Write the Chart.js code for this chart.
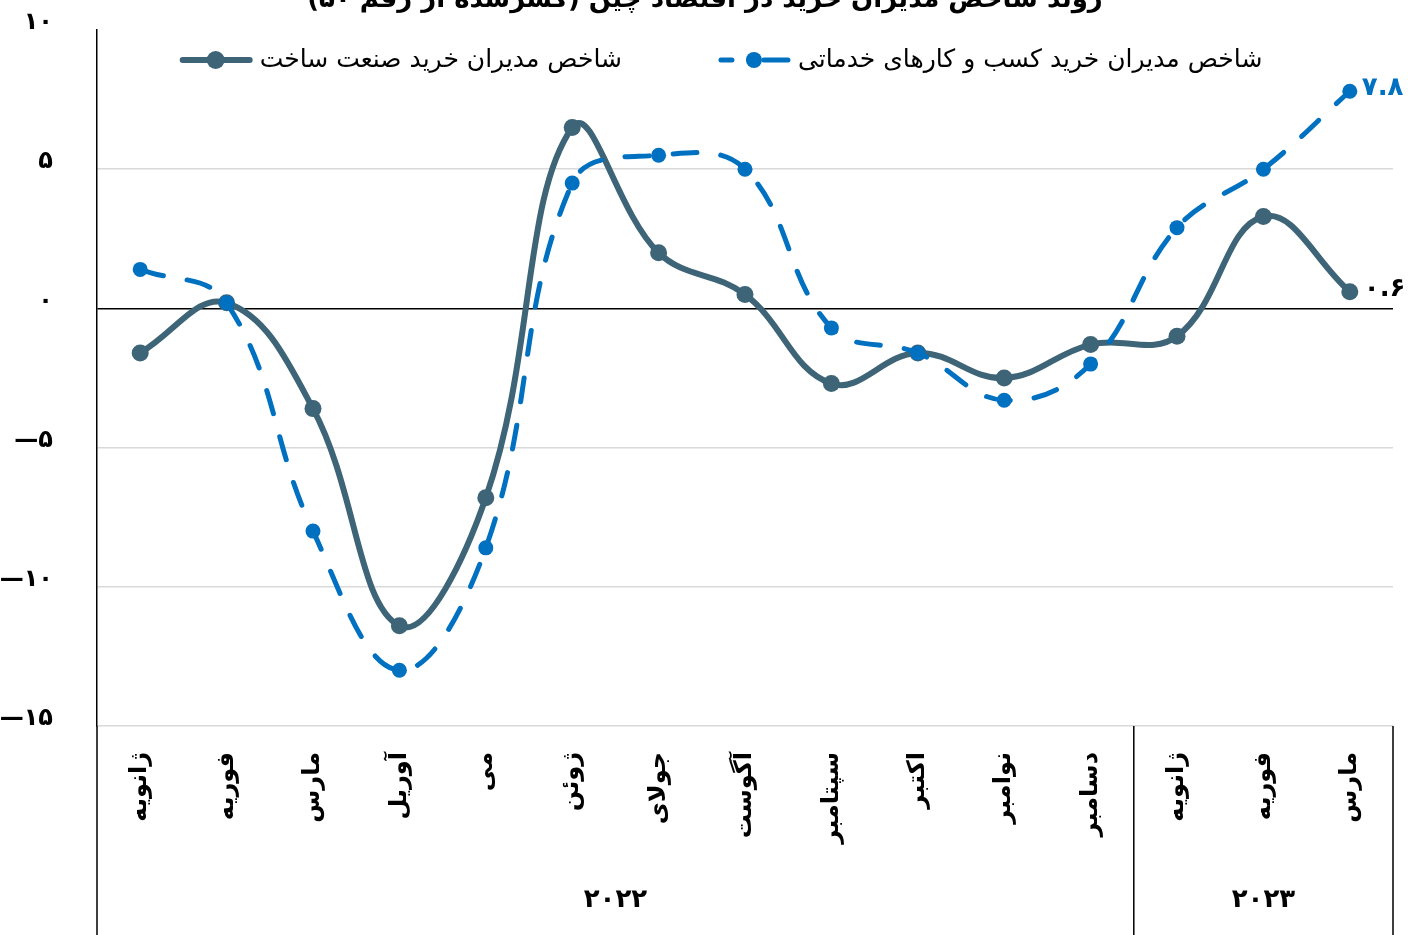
<!DOCTYPE html>
<html lang="fa">
<head>
<meta charset="utf-8">
<title>شاخص مدیران خرید چین</title>
<script src="https://cdn.jsdelivr.net/npm/chart.js@4.4.1/dist/chart.umd.min.js"></script>
<style>
  html, body { margin: 0; padding: 0; background: #fff; }
  #wrap { width: 1408px; height: 935px; position: relative; }
</style>
</head>
<body>
<div id="wrap"><canvas id="pmi-chart"></canvas></div>
<script>
// Data (index minus 50)
const months = ['ژانویه', 'فوریه', 'مارس', 'آوریل', 'می', 'ژوئن', 'جولای', 'آگوست', 'سپتامبر', 'اکتبر', 'نوامبر', 'دسامبر', 'ژانویه', 'فوریه', 'مارس'];
const years = ['۲۰۲۲', '۲۰۲۳'];
const monthsPerYear = [12, 3];
const manufacturing = [-1.6, 0.2, -3.6, -11.4, -6.8, 6.5, 2.0, 0.5, -2.7, -1.6, -2.5, -1.3, -1.0, 3.3, 0.6];
const services = [1.4, 0.2, -8.0, -13.0, -8.6, 4.5, 5.5, 5.0, -0.7, -1.6, -3.3, -2.0, 2.9, 5.0, 7.8];
const yMin = -15;
const yMax = 10;
const yStep = 5;

const titleText = 'روند شاخص مدیران خرید در اقتصاد چین (کسرشده از رقم ۵۰)';
const manufacturingName = 'شاخص مدیران خرید صنعت ساخت';
const servicesName = 'شاخص مدیران خرید کسب و کارهای خدماتی';

const SLATE = '#3d6477';
const BLUE = '#0070c0';
const FONT = "'DejaVu Sans', sans-serif";

// Persian digits
function toFa(v) {
    const digits = '۰۱۲۳۴۵۶۷۸۹';
    let s = String(v).replace(/\d/g, d => digits[d]);
    return s.replace('-', '—');
}

function drawLegendMarker(ctx, x, y, color, dashed) {
    ctx.save();
    ctx.strokeStyle = color;
    ctx.fillStyle = color;
    ctx.lineWidth = dashed ? 5 : 6;
    ctx.lineCap = 'round';
    ctx.beginPath();
    if (dashed) {
        ctx.moveTo(x + 3, y); ctx.lineTo(x + 14, y);
        ctx.moveTo(x + 46, y); ctx.lineTo(x + 70, y);
    } else {
        ctx.moveTo(x + 3, y); ctx.lineTo(x + 70, y);
    }
    ctx.stroke();
    ctx.beginPath();
    ctx.arc(x + 36, y, dashed ? 8 : 9, 0, Math.PI * 2);
    ctx.fill();
    ctx.restore();
}

const decorPlugin = {
    id: 'decor',
    afterDatasetsDraw(chart) {
        const ctx = chart.ctx;

        // value labels on the last points
        ctx.save();
        ctx.font = 'bold 26px ' + FONT;
        ctx.textAlign = 'left';
        ctx.textBaseline = 'middle';
        const lastM = chart.getDatasetMeta(0).data[manufacturing.length - 1];
        const lastS = chart.getDatasetMeta(1).data[services.length - 1];
        ctx.fillStyle = '#000';
        ctx.fillText(toFa(manufacturing[manufacturing.length - 1]), lastM.x + 14, lastM.y - 2);
        ctx.fillStyle = BLUE;
        ctx.fillText(toFa(services[services.length - 1]), lastS.x + 12, lastS.y - 3);
        ctx.restore();
    },
    afterDraw(chart) {
        const ctx = chart.ctx;
        const area = chart.chartArea;
        const xs = chart.scales.x;
        const H = chart.height;

        ctx.save();
        // title (cut by the top edge as in the original)
        ctx.font = 'bold 26px ' + FONT;
        ctx.fillStyle = '#000';
        ctx.textAlign = 'center';
        ctx.textBaseline = 'bottom';
        ctx.fillText(titleText, 705, 13);

        // category box lines
        ctx.strokeStyle = '#000';
        ctx.lineWidth = 1.5;
        ctx.beginPath();
        ctx.moveTo(area.left, area.bottom);
        ctx.lineTo(area.left, H);
        let idx = 0;
        monthsPerYear.forEach((n) => {
            idx += n;
            let xb;
            if (idx >= months.length) {
                xb = area.right;
            } else {
                xb = (xs.getPixelForValue(idx - 1) + xs.getPixelForValue(idx)) / 2;
            }
            ctx.moveTo(xb, area.bottom);
            ctx.lineTo(xb, H);
        });
        ctx.stroke();

        // year labels
        ctx.font = 'bold 26px ' + FONT;
        ctx.textBaseline = 'middle';
        let start = 0;
        monthsPerYear.forEach((n, i) => {
            const x0 = start === 0 ? area.left : (xs.getPixelForValue(start - 1) + xs.getPixelForValue(start)) / 2;
            const end = start + n;
            const x1 = end >= months.length ? area.right : (xs.getPixelForValue(end - 1) + xs.getPixelForValue(end)) / 2;
            ctx.fillText(years[i], (x0 + x1) / 2, 900);
            start = end;
        });

        // legend
        ctx.font = '25px ' + FONT;
        ctx.textAlign = 'left';
        ctx.textBaseline = 'middle';
        const items = [
            { name: manufacturingName, color: SLATE, dashed: false },
            { name: servicesName, color: BLUE, dashed: true }
        ];
        const markerW = 72, gapIn = 8, gapOut = 96;
        let total = 0;
        items.forEach((it, i) => {
            it.w = ctx.measureText(it.name).width;
            total += markerW + gapIn + it.w + (i < items.length - 1 ? gapOut : 0);
        });
        let lx = 721 - total / 2;
        const ly = 60;
        items.forEach((it) => {
            drawLegendMarker(ctx, lx, ly, it.color, it.dashed);
            ctx.fillStyle = '#000';
            ctx.fillText(it.name, lx + markerW + gapIn, ly);
            lx += markerW + gapIn + it.w + gapOut;
        });
        ctx.restore();
    }
};

const ctx = document.getElementById('pmi-chart').getContext('2d');
const chartInstance = new Chart(ctx, {
    type: 'line',
    data: {
        labels: months,
        datasets: [{
            label: manufacturingName,
            data: manufacturing,
            borderColor: SLATE,
            backgroundColor: SLATE,
            borderWidth: 6,
            pointRadius: 8.5,
            pointHoverRadius: 8.5,
            pointBorderWidth: 0,
            tension: 0.4,
            order: 1
        }, {
            label: servicesName,
            data: services,
            borderColor: BLUE,
            backgroundColor: BLUE,
            borderWidth: 5,
            borderDash: [24, 24],
            borderCapStyle: 'round',
            pointRadius: 7.5,
            pointHoverRadius: 7.5,
            pointBorderWidth: 0,
            tension: 0.4,
            order: 0
        }]
    },
    options: {
        responsive: true,
        maintainAspectRatio: false,
        animation: false,
        layout: { padding: { top: 30, right: 15, left: 0, bottom: 0 } },
        plugins: {
            legend: { display: false },
            title: { display: false },
            tooltip: { enabled: false }
        },
        scales: {
            x: {
                offset: true,
                grid: { display: false },
                border: { display: false },
                ticks: {
                    autoSkip: false,
                    minRotation: 90,
                    maxRotation: 90,
                    padding: 18,
                    color: '#000',
                    font: { family: FONT, size: 24, weight: 'bold' }
                },
                afterFit(scale) { scale.height = 209; }
            },
            y: {
                min: yMin,
                max: yMax,
                ticks: {
                    stepSize: yStep,
                    padding: 44,
                    labelOffset: -7,
                    color: '#000',
                    font: { family: FONT, size: 24, weight: 'bold' },
                    callback: (v) => toFa(v)
                },
                border: { display: true, color: '#000', width: 1.5 },
                grid: {
                    drawTicks: false,
                    color: (c) => c.tick.value === 0 ? '#000' : (c.tick.value === yMax ? 'rgba(0,0,0,0)' : '#d9d9d9'),
                    lineWidth: 1.5
                },
                afterFit(scale) {
                    scale.width = 97;
                    scale.paddingTop = 0;
                    scale.paddingBottom = 0;
                }
            }
        }
    },
    plugins: [decorPlugin]
});
</script>
</body>
</html>
